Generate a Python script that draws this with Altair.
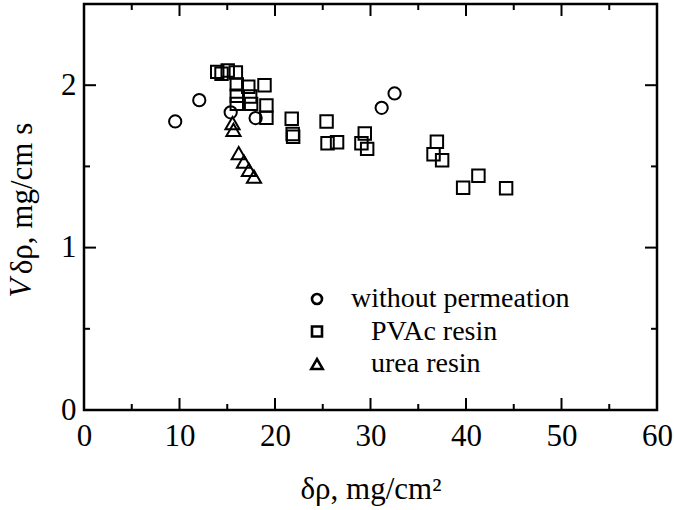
import altair as alt
import pandas as pd

# ---- data ----
circ_x = [9.55, 12.07, 15.36, 17.97, 31.17, 32.52]
circ_y = [1.777, 1.908, 1.833, 1.798, 1.861, 1.949]

sq_x = [13.95, 14.4, 15.05, 15.9, 16.0, 17.2, 18.9, 16.0, 17.4, 16.0, 17.5, 19.1, 19.1,
        21.75, 21.85, 21.9, 25.4, 25.5, 26.5, 29.05, 29.4, 29.65,
        36.95, 36.6, 37.5, 39.7, 41.3, 44.2]
sq_y = [2.082, 2.07, 2.09, 2.078, 2.005, 1.99, 2.0, 1.935, 1.93, 1.885, 1.885, 1.875, 1.80,
        1.793, 1.70, 1.683, 1.777, 1.643, 1.649, 1.643, 1.703, 1.608,
        1.652, 1.575, 1.538, 1.369, 1.443, 1.365]

tri_x = [15.55, 15.65, 16.2, 16.75, 17.27, 17.8]
tri_y = [1.767, 1.725, 1.581, 1.53, 1.478, 1.437]

series = ["without permeation", "PVAc resin", "urea resin"]
shapes = ["circle", "square", "triangle-up"]

x_major = [0, 10, 20, 30, 40, 50, 60]
x_minor = [5, 15, 25, 35, 45, 55]
y_major = [0, 1, 2]
y_minor = [0.5, 1.5, 2.5]

W, H = 573, 406
FONT = "Liberation Serif"
FS = 31
LFS = 28

xscale = alt.Scale(domain=[0, 60], nice=False, zero=False)
yscale = alt.Scale(domain=[0, 2.5], nice=False, zero=False)

xaxis = alt.Axis(
    values=x_major, ticks=False, domain=False, grid=False, labelFont=FONT,
    labelFontSize=FS, labelColor="black", labelPadding=11, format="d", labelFlush=False,
    title="δρ, mg/cm²", titleFont=FONT, titleFontSize=FS, titleFontWeight="normal",
    titleColor="black", titleY=88, titleBaseline="alphabetic")
yaxis = alt.Axis(
    values=y_major, ticks=False, domain=False, grid=False, labelFont=FONT,
    labelFontSize=FS, labelColor="black", labelPadding=8, format="d", labelFlush=False,
    title="δρ, mg/cm s", titleFont=FONT, titleFontSize=FS, titleFontWeight="normal",
    titleColor="black", titleAngle=270, titleX=-62, titleY=194,
    titleAlign="center", titleBaseline="middle")

def series_layer(xs, ys, i, ly, offset, msize, lsize):
    d = pd.DataFrame({"x": xs, "y": ys, "s": [series[i]] * len(xs)})
    return alt.Chart(d).mark_point(filled=False, stroke="black", strokeWidth=2,
                                   opacity=1, size=msize).encode(
        x=alt.X("x:Q", scale=xscale, axis=xaxis),
        y=alt.Y("y:Q", scale=yscale, axis=yaxis),
        shape=alt.Shape("s:N", scale=alt.Scale(domain=[series[i]], range=[shapes[i]]),
                        legend=alt.Legend(
                            title=None, orient="none", legendX=219, legendY=ly, padding=0,
                            labelFont=FONT, labelFontSize=LFS, labelColor="black",
                            labelOffset=offset, labelLimit=0, symbolSize=lsize,
                            symbolStrokeWidth=2.6, symbolStrokeColor="black",
                            symbolFillColor="white")),
    )

pts = [
    series_layer(circ_x, circ_y, 0, 281, 20, 150, 100),
    series_layer(sq_x, sq_y, 1, 313.5, 40, 155, 100),
    series_layer(tri_x, tri_y, 2, 346, 40, 200, 130),
]

def xticks(vals, length, top):
    d = pd.DataFrame({"v": vals})
    if top:
        enc = dict(y=alt.value(0), y2=alt.value(length))
    else:
        enc = dict(y=alt.value(H), y2=alt.value(H - length))
    return alt.Chart(d).mark_rule(color="black", strokeWidth=2).encode(
        x=alt.X("v:Q", scale=xscale, axis=xaxis), **enc)

def yticks(vals, length, right):
    d = pd.DataFrame({"v": vals})
    if right:
        enc = dict(x=alt.value(W), x2=alt.value(W - length))
    else:
        enc = dict(x=alt.value(0), x2=alt.value(length))
    return alt.Chart(d).mark_rule(color="black", strokeWidth=2).encode(
        y=alt.Y("v:Q", scale=yscale, axis=yaxis), **enc)

ticks = [
    xticks(x_major, 12, False), xticks(x_minor, 6, False),
    xticks(x_major, 12, True), xticks(x_minor, 6, True),
    yticks(y_major, 12, False), yticks(y_minor, 6, False),
    yticks(y_major, 12, True), yticks(y_minor, 6, True),
]

vlabel = alt.Chart(pd.DataFrame({"t": ["V"]})).mark_text(
    font=FONT, fontSize=FS, fontStyle="italic", angle=270, align="center",
    baseline="middle", color="black").encode(
    text="t:N", x=alt.value(-62), y=alt.value(284))

chart = alt.layer(*pts, *ticks, vlabel).resolve_scale(shape="independent").properties(
    width=W, height=H,
    autosize=alt.AutoSizeParams(type="none"),
    padding={"left": 84, "top": 4, "right": 17, "bottom": 100},
).configure(background="white").configure_view(stroke="black", strokeWidth=2.5)

chart.save("out.html", embed_options={"renderer": "svg", "actions": False})
